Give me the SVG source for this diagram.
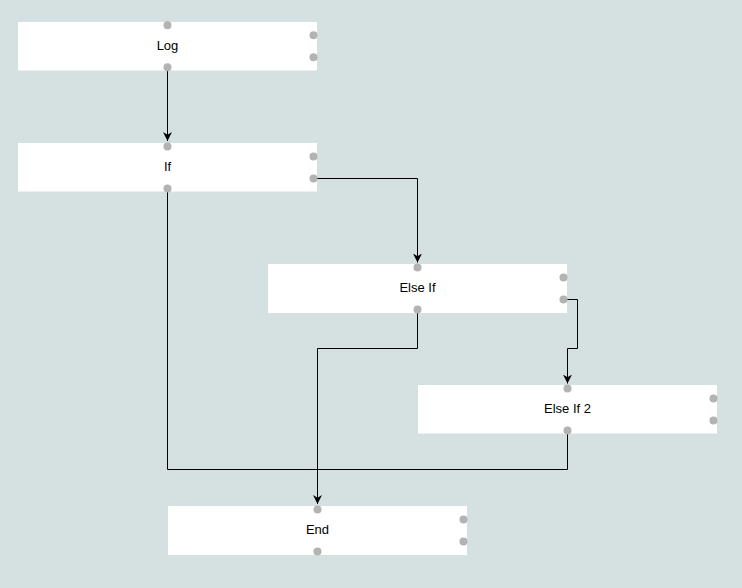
<svg xmlns="http://www.w3.org/2000/svg" width="742" height="588" viewBox="0 0 742 588">
<style>
.box{fill:#ffffff}
.dot{fill:#b3b3b3}
.lbl{font-family:"Liberation Sans",Arial,sans-serif;font-size:13px;fill:#000;text-anchor:middle;dominant-baseline:central}
.wire{fill:none;stroke:#000;stroke-width:1}
</style>
<defs>
<marker id="arr" viewBox="0 0 10 10" refX="10" refY="5" markerWidth="9" markerHeight="9" markerUnits="userSpaceOnUse" orient="auto">
<path d="M0,0 L10,5 L0,10 L3,5 Z" fill="#000"/>
</marker>
</defs>
<rect width="742" height="588" fill="#d5e1e1"/>
<g id="connectors">
<path class="wire" d="M167.5,67 V141" marker-end="url(#arr)"/>
<path class="wire" d="M313.5,178.5 H417.5 V262.5" marker-end="url(#arr)"/>
<path class="wire" d="M563.5,299.5 H577.5 V348.5 H567.5 V383.5" marker-end="url(#arr)"/>
<path class="wire" d="M417.5,309 V348.5 H317.5 V504" marker-end="url(#arr)"/>
<path class="wire" d="M167.5,188 V469.5 H567.5 V430"/>
</g>
<g id="node-log">
<rect class="box" x="18" y="22" width="299" height="48.5"/>
<text class="lbl" x="167.5" y="45">Log</text>
<circle class="dot" cx="167.5" cy="25.3" r="4"/>
<circle class="dot" cx="167.5" cy="67.3" r="4"/>
<circle class="dot" cx="313.5" cy="35.3" r="4"/>
<circle class="dot" cx="313.5" cy="57.3" r="4"/>
</g>
<g id="node-if">
<rect class="box" x="18" y="143" width="299" height="48.5"/>
<text class="lbl" x="167.5" y="166">If</text>
<circle class="dot" cx="167.5" cy="146.5" r="4"/>
<circle class="dot" cx="167.5" cy="188.5" r="4"/>
<circle class="dot" cx="313.5" cy="156.5" r="4"/>
<circle class="dot" cx="313.5" cy="178.5" r="4"/>
</g>
<g id="node-elseif">
<rect class="box" x="268" y="264" width="299" height="49"/>
<text class="lbl" x="417.5" y="287">Else If</text>
<circle class="dot" cx="417.5" cy="267.5" r="4"/>
<circle class="dot" cx="417.5" cy="309.5" r="4"/>
<circle class="dot" cx="563.5" cy="277.5" r="4"/>
<circle class="dot" cx="563.5" cy="299.5" r="4"/>
</g>
<g id="node-elseif2">
<rect class="box" x="418" y="385" width="299" height="48.5"/>
<text class="lbl" x="567.5" y="408">Else If 2</text>
<circle class="dot" cx="567.5" cy="388.5" r="4"/>
<circle class="dot" cx="567.5" cy="430.5" r="4"/>
<circle class="dot" cx="713.5" cy="398.5" r="4"/>
<circle class="dot" cx="713.5" cy="420.5" r="4"/>
</g>
<g id="node-end">
<rect class="box" x="168" y="506" width="299" height="49"/>
<text class="lbl" x="317.5" y="529">End</text>
<circle class="dot" cx="317.5" cy="509.5" r="4"/>
<circle class="dot" cx="317.5" cy="551.5" r="4"/>
<circle class="dot" cx="463.5" cy="519.5" r="4"/>
<circle class="dot" cx="463.5" cy="541.5" r="4"/>
</g>
</svg>
